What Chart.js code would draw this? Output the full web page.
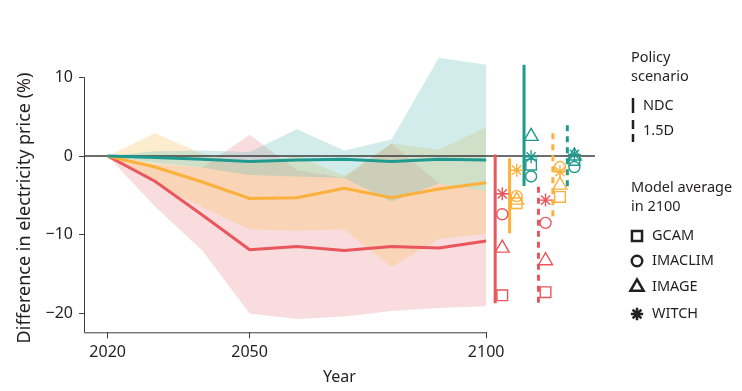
<!DOCTYPE html>
<html>
<head>
<meta charset="utf-8">
<script src="https://cdn.jsdelivr.net/npm/chart.js@4.4.1/dist/chart.umd.min.js"></script>
<style>
  html, body { margin: 0; padding: 0; background: #ffffff; }
  #wrap { width: 742px; height: 391px; position: relative; }
</style>
</head>
<body>
<div id="wrap"><canvas id="price_chart"></canvas></div>
<script>
const years = [2020, 2030, 2040, 2050, 2060, 2070, 2080, 2090, 2100]

const redMean = [0, -3.2, -7.5, -11.9, -11.5, -12.0, -11.5, -11.7, -10.8]
const redHigh = [0, -1.0, -1.5, 2.7, -1.8, -2.8, 1.6, -3.5, -4.5]
const redLow = [0, -6.4, -12.0, -20.0, -20.7, -20.4, -19.7, -19.3, -19.1]

const yellowMean = [0, -1.4, -3.3, -5.4, -5.3, -4.1, -5.3, -4.2, -3.4]
const yellowHigh = [0, 2.9, 0.3, -1.0, 0.0, -2.5, 1.6, 0.8, 3.7]
const yellowLow = [0, -3.5, -6.5, -9.3, -9.5, -9.3, -14.1, -10.5, -9.9]

const tealMean = [0, -0.2, -0.4, -0.7, -0.5, -0.4, -0.7, -0.4, -0.5]
const tealHigh = [0, 0.6, 0.7, 0.5, 3.4, 0.7, 2.1, 12.5, 11.6]
const tealLow = [0, -0.9, -1.5, -2.4, -2.6, -2.8, -5.8, -3.5, -4.5]

// 2100 ranges, order: red, yellow, teal
const scenarios = ["NDC", "1.5D"]
const ndcTop = [0.2, -0.3, 11.6]
const ndcBottom = [-18.7, -9.8, -3.8]
const deg15Top = [-3.9, 2.9, 3.9]
const deg15Bottom = [-19.0, -7.7, -4.3]

// model averages in 2100, order: red, yellow, teal
const models = ["GCAM", "IMACLIM", "IMAGE", "WITCH"]
const gcamNdc = [-17.7, -6.0, -1.1]
const gcam15 = [-17.3, -5.2, -0.5]
const imaclimNdc = [-7.4, -5.1, -2.6]
const imaclim15 = [-8.5, -1.4, -1.4]
const imageNdc = [-11.7, -5.6, 2.5]
const image15 = [-13.3, -3.7, 0.0]
const witchNdc = [-4.8, -1.8, -0.1]
const witch15 = [-5.6, -2.0, 0.2]

const xTicks = [2020, 2050, 2100]
const yTicks = [-20, -10, 0, 10]

const xMin = 2015
const xMax = 2123
const yMin = -22.4
const yMax = 13

const lineColors = ["#e9565b", "#fbb13c", "#1f9a8e"]
const bandColors = [
  "rgba(235, 138, 145, 0.3)",
  "rgba(248, 192, 88, 0.3)",
  "rgba(102, 192, 185, 0.3)",
]
const markerStyles = ["rect", "circle", "triangle", "star"]
const markerRadius = [7.5, 5.5, 8, 6.5]

// slot placement of the 2100 summary columns
const slotStart = 2101.9
const slotStep = 3.05
const markerShift = 1.5

const toPoints = (arr) => years.map((x, i) => ({ x: x, y: arr[i] }))

const bandDatasets = []
const bands = [
  [redLow, redHigh],
  [yellowLow, yellowHigh],
  [tealLow, tealHigh],
]
bands.forEach(([low, high], c) => {
  bandDatasets.push({
    data: toPoints(low),
    borderWidth: 0,
    pointRadius: 0,
    fill: false,
    order: 10 - c,
  })
  bandDatasets.push({
    data: toPoints(high),
    borderWidth: 0,
    pointRadius: 0,
    fill: "-1",
    backgroundColor: bandColors[c],
    order: 10 - c,
  })
})

const meanDatasets = [redMean, yellowMean, tealMean].map((arr, c) => ({
  data: toPoints(arr),
  borderColor: lineColors[c],
  borderWidth: 3,
  pointRadius: 0,
  fill: false,
  tension: 0,
  order: 4 - c * 0.1,
}))

const zeroLine = {
  data: [
    { x: xMin, y: 0 },
    { x: xMax, y: 0 },
  ],
  borderColor: "#3c3c3c",
  borderWidth: 1.5,
  pointRadius: 0,
  fill: false,
  order: 5,
}

const rangeDatasets = []
const rangeTops = [ndcTop, deg15Top]
const rangeBottoms = [ndcBottom, deg15Bottom]
scenarios.forEach((s, k) => {
  lineColors.forEach((col, c) => {
    const slot = k * 3 + c
    const xv = slotStart + slot * slotStep
    rangeDatasets.push({
      data: [
        { x: xv, y: rangeTops[k][c] },
        { x: xv, y: rangeBottoms[k][c] },
      ],
      borderColor: col,
      borderWidth: 3,
      borderDash: k === 1 ? [6, 5] : [],
      pointRadius: 0,
      fill: false,
      order: 2,
    })
  })
})

const modelValues = [
  [gcamNdc, gcam15],
  [imaclimNdc, imaclim15],
  [imageNdc, image15],
  [witchNdc, witch15],
]
const markerDatasets = models.map((m, i) => {
  const pts = []
  const cols = []
  scenarios.forEach((s, k) => {
    lineColors.forEach((col, c) => {
      const slot = k * 3 + c
      pts.push({
        x: slotStart + slot * slotStep + markerShift,
        y: modelValues[i][k][c],
      })
      cols.push(col)
    })
  })
  return {
    label: m,
    data: pts,
    showLine: false,
    pointStyle: markerStyles[i],
    pointRadius: markerRadius[i],
    pointBorderWidth: 1.4,
    pointBorderColor: cols,
    pointBackgroundColor: "rgba(0,0,0,0)",
    order: 1,
  }
})

const textColor = "#231f20"
const fontFamily = "'Noto Sans', sans-serif"

const extras = {
  id: "extras",
  beforeDatasetsDraw(chart) {
    const { ctx, chartArea, scales } = chart
    const x = scales.x
    const y = scales.y
    ctx.save()
    ctx.strokeStyle = "#3c3c3c"
    ctx.lineWidth = 1
    ctx.beginPath()
    ctx.moveTo(chartArea.left + 0.5, y.getPixelForValue(10))
    ctx.lineTo(chartArea.left + 0.5, chartArea.bottom + 0.5)
    ctx.lineTo(x.getPixelForValue(2100), chartArea.bottom + 0.5)
    ctx.stroke()
    ctx.restore()
  },
  afterDraw(chart) {
    const { ctx, chartArea } = chart
    ctx.save()
    ctx.fillStyle = textColor
    ctx.font = "16px " + fontFamily
    ctx.textAlign = "center"
    ctx.textBaseline = "middle"
    ctx.fillText("Year", (chartArea.left + chartArea.right) / 2, 377)

    ctx.font = "18px " + fontFamily
    ctx.translate(25, 208)
    ctx.rotate(-Math.PI / 2)
    ctx.fillText("Difference in electricity price (%)", 0, 0)
    ctx.restore()

    // legend
    ctx.save()
    ctx.fillStyle = textColor
    ctx.strokeStyle = textColor
    ctx.font = "14.5px " + fontFamily
    ctx.textAlign = "left"
    ctx.textBaseline = "middle"
    ctx.fillText("Policy", 631, 58)
    ctx.fillText("scenario", 631, 77)

    ctx.lineWidth = 2.5
    ctx.beginPath()
    ctx.moveTo(633, 98)
    ctx.lineTo(633, 113)
    ctx.stroke()
    ctx.fillText(scenarios[0], 643, 106)

    ctx.setLineDash([9, 5])
    ctx.beginPath()
    ctx.moveTo(633, 120)
    ctx.lineTo(633, 142)
    ctx.stroke()
    ctx.setLineDash([])
    ctx.fillText(scenarios[1], 643, 131)

    ctx.fillText("Model average", 631, 188)
    ctx.fillText("in 2100", 631, 207)

    const rowY = [236, 261, 287, 314]
    ctx.fillStyle = "rgba(0,0,0,0)"
    models.forEach((m, i) => {
      Chart.helpers.drawPoint(
        ctx,
        {
          pointStyle: markerStyles[i],
          radius: markerRadius[i] * 0.95,
          rotation: 0,
          borderWidth: 2,
        },
        637,
        rowY[i],
      )
    })
    ctx.fillStyle = textColor
    models.forEach((m, i) => {
      ctx.fillText(m, 652, rowY[i])
    })
    ctx.restore()
  },
}

Chart.defaults.font.family = fontFamily
Chart.defaults.color = textColor

new Chart(document.getElementById("price_chart"), {
  type: "line",
  data: {
    datasets: [
      ...markerDatasets,
      ...rangeDatasets,
      ...meanDatasets,
      zeroLine,
      ...bandDatasets,
    ],
  },
  options: {
    responsive: true,
    maintainAspectRatio: false,
    animation: false,
    events: [],
    devicePixelRatio: 1,
    layout: {
      padding: { top: 53.7, right: 147, left: 0, bottom: 0 },
    },
    scales: {
      x: {
        type: "linear",
        min: xMin,
        max: xMax,
        afterBuildTicks: (scale) => {
          scale.ticks = xTicks.map((v) => ({ value: v }))
        },
        afterFit: (scale) => {
          scale.height = 58.7
        },
        border: { display: false },
        grid: {
          drawOnChartArea: false,
          drawTicks: true,
          tickLength: 6,
          color: "#3c3c3c",
        },
        ticks: {
          padding: 5,
          color: textColor,
          font: { size: 16 },
          maxRotation: 0,
          callback: (v) => String(v),
        },
      },
      y: {
        type: "linear",
        min: yMin,
        max: yMax,
        afterBuildTicks: (scale) => {
          scale.ticks = yTicks.map((v) => ({ value: v }))
        },
        afterFit: (scale) => {
          scale.width = 84
        },
        border: { display: false },
        grid: {
          drawOnChartArea: false,
          drawTicks: true,
          tickLength: 5,
          color: "#3c3c3c",
        },
        ticks: {
          padding: 6,
          color: textColor,
          font: { size: 16 },
          callback: (v) => (v < 0 ? "\u2212" + Math.abs(v) : String(v)),
        },
      },
    },
    plugins: {
      legend: { display: false },
      tooltip: { enabled: false },
      filler: { propagate: false },
    },
  },
  plugins: [extras],
})
</script>
</body>
</html>
